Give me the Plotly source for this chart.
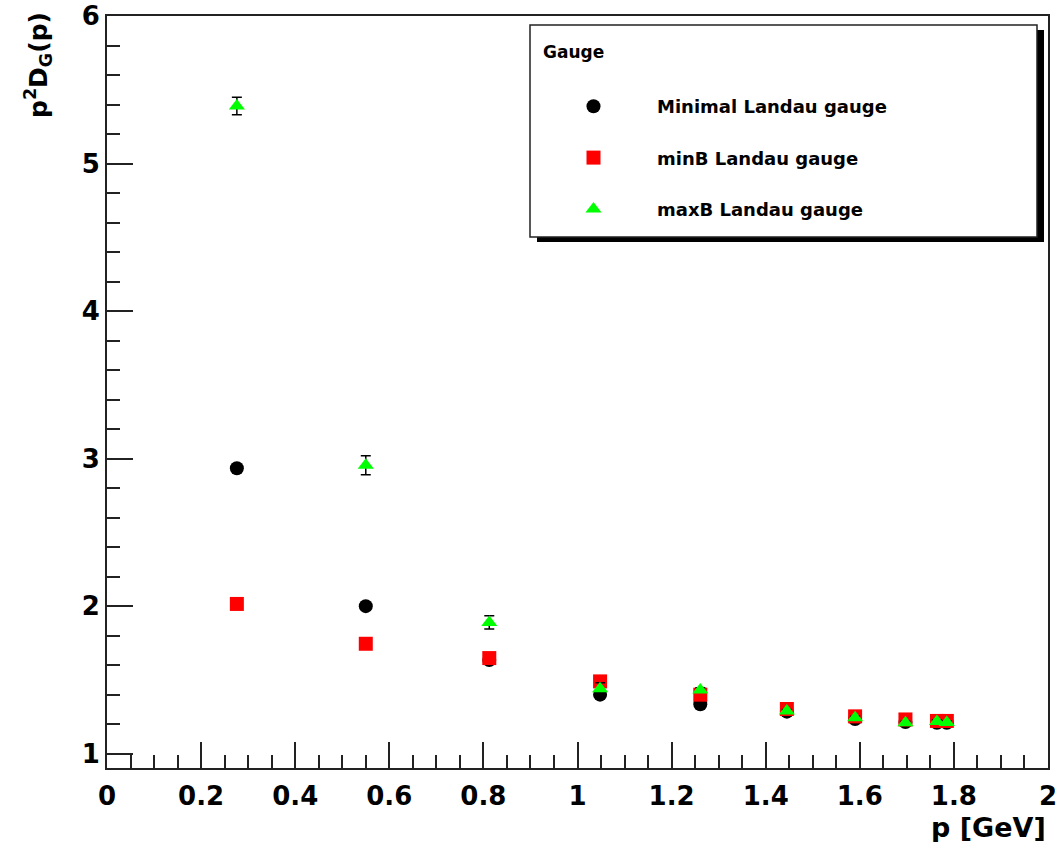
import plotly.graph_objects as go

# ---- data ----
p_gev = [0.276, 0.550, 0.8125, 1.048, 1.261, 1.445, 1.59, 1.697, 1.764, 1.785]
minimal_landau = [2.935, 2.0, 1.635, 1.40, 1.335, 1.285, 1.235, 1.215, 1.21, 1.21]
minB_landau = [2.015, 1.745, 1.648, 1.49, 1.40, 1.303, 1.253, 1.232, 1.222, 1.222]
maxB_landau = [5.39, 2.955, 1.89, 1.44, 1.432, 1.29, 1.243, 1.21, 1.218, 1.212]
maxB_err = [0.06, 0.065, 0.045, 0.04, 0.015, 0.01, 0.01, 0.01, 0.01, 0.01]
series_names = ["Minimal Landau gauge", "minB Landau gauge", "maxB Landau gauge"]

W, H = 1059, 842
L, R, T, B = 107, 1048, 16, 768   # plot frame in pixels

def px_x(px):
    return (px - L) / (R - L)

def px_y(py):
    return (B - py) / (B - T)

FONT = "DejaVu Sans"

fig = go.Figure()
fig.add_trace(go.Scatter(
    x=p_gev, y=minimal_landau, mode="markers", name=series_names[0], legendgroup="a",
    marker=dict(symbol="circle", size=14, color="black"),
))
fig.add_trace(go.Scatter(
    x=p_gev, y=minB_landau, mode="markers", name=series_names[1], legendgroup="b",
    marker=dict(symbol="square", size=14, color="#ff0000"),
))
fig.add_trace(go.Scatter(
    x=p_gev, y=maxB_landau, mode="markers", name=series_names[2], legendgroup="c",
    marker=dict(symbol="triangle-up", size=14, color="#00ff00"),
    error_y=dict(type="data", array=maxB_err, color="black", thickness=1.5, width=5),
))

axis_common = dict(
    showline=True, linecolor="#222", linewidth=2, mirror=True,
    ticks="inside", ticklen=26, tickwidth=1.5, tickcolor="#222",
    showgrid=False, zeroline=False, automargin=False,
    tickfont=dict(family=FONT, size=26, color="black", weight="bold"),
)

fig.update_xaxes(
    range=[0, 2], tickmode="linear", tick0=0, dtick=0.2, ticklabelstandoff=4,
    minor=dict(ticks="inside", dtick=0.05, ticklen=13, tickwidth=1.5, tickcolor="#222"),
    **axis_common,
)
fig.update_yaxes(
    range=[0.903, 6], tickmode="linear", tick0=0, dtick=1,
    minor=dict(ticks="inside", dtick=0.2, ticklen=13, tickwidth=1.5, tickcolor="#222"),
    **axis_common,
)

# legend box with shadow
shadow_dx, shadow_dy = 7, 5
box = (530, 25, 1037, 237)
fig.add_shape(type="rect", xref="paper", yref="paper", layer="above",
              x0=px_x(box[0] + shadow_dx), x1=px_x(box[2] + shadow_dx),
              y0=px_y(box[3] + shadow_dy), y1=px_y(box[1] + shadow_dy),
              fillcolor="black", line=dict(width=0))
fig.add_shape(type="rect", xref="paper", yref="paper", layer="above",
              x0=px_x(box[0]), x1=px_x(box[2]), y0=px_y(box[3]), y1=px_y(box[1]),
              fillcolor="white", line=dict(color="#222", width=1.5))

fig.add_annotation(text="Gauge", xref="paper", yref="paper",
                   x=px_x(541), y=px_y(52), xanchor="left", yanchor="middle",
                   showarrow=False, font=dict(family=FONT, size=17, color="black", weight="bold"))

fig.add_annotation(text="p<sup>2</sup>D<sub>G</sub>(p)", xref="paper", yref="paper",
                   x=px_x(38), y=px_y(10), xanchor="center", yanchor="top", textangle=-90,
                   showarrow=False, font=dict(family=FONT, size=25, color="black", weight="bold"))
fig.add_annotation(text="p [GeV]", xref="paper", yref="paper",
                   x=1.0, y=px_y(810), xanchor="right", yanchor="top",
                   showarrow=False, font=dict(family=FONT, size=27, color="black", weight="bold"))

fig.update_layout(
    width=W, height=H,
    margin=dict(l=L, r=W - R, t=T, b=H - B, pad=0, autoexpand=False),
    paper_bgcolor="white", plot_bgcolor="white",
    showlegend=True,
    legend=dict(
        x=px_x(530), y=px_y(88), xanchor="left", yanchor="top",
        bgcolor="rgba(0,0,0,0)", borderwidth=0,
        font=dict(family=FONT, size=18, color="black", weight="bold"),
        tracegroupgap=25, itemwidth=117,
    ),
)

fig.write_html("out.html")
